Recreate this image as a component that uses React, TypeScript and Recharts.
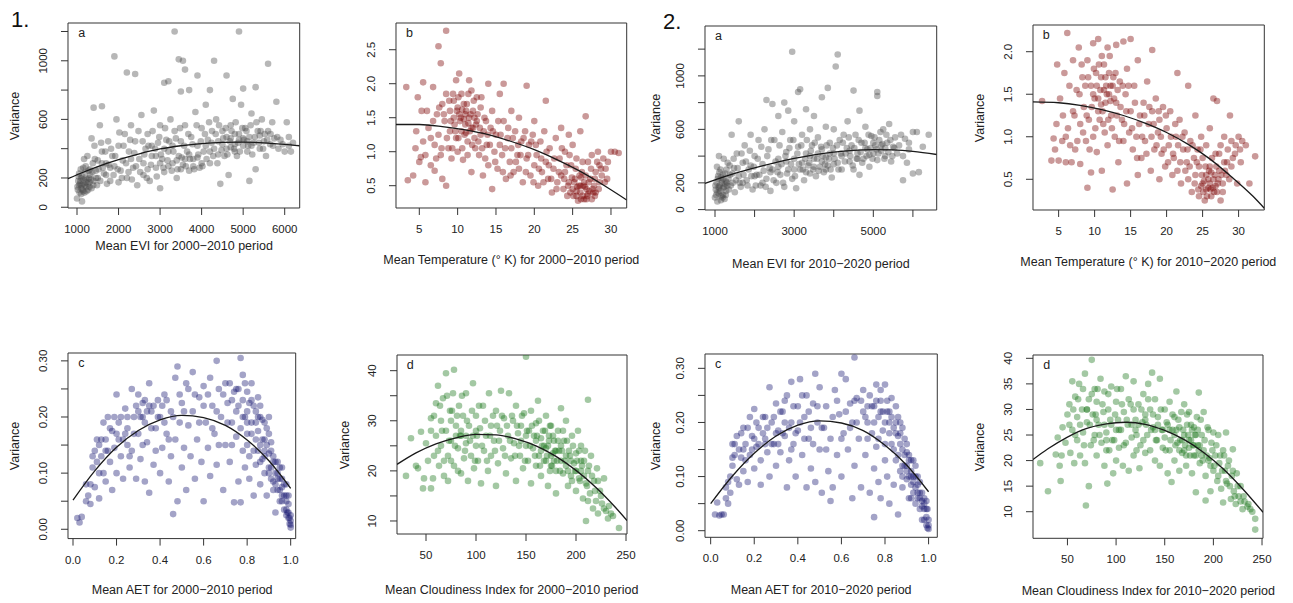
import React from 'react';
import { ScatterChart, Scatter, XAxis, YAxis, ReferenceArea } from 'recharts';

type Pt = [number, number];

// ---- 1a: variance vs mean EVI, 2000-2010 ----
const evi2000: Pt[] = [
  [1000,60],[1020,120],[1050,150],[1080,180],[1100,130],[1120,210],[1150,160],[1180,100],[1200,240],[1220,140],
  [1250,190],[1270,120],[1300,170],[1050,230],[1100,90],[1150,270],[1200,200],[1280,250],[1320,220],[1350,130],
  [1030,180],[1170,330],[1250,350],[1380,300],[1120,40],[1400,180],[1450,250],[1480,150],[1500,320],[1420,420],
  [1350,470],[1400,680],[1600,690],[1550,560],[1600,380],[1650,230],[1700,300],[1750,450],[1800,180],[1850,350],
  [1900,280],[1950,600],[1900,1030],[2000,420],[2050,250],[2100,320],[2150,500],[2200,920],[2200,200],[2250,380],
  [2300,560],[2350,270],[2400,910],[2400,450],[2450,150],[2500,330],[2550,630],[2600,220],[2650,400],[2700,500],
  [2750,180],[2800,350],[2850,660],[2900,270],[2950,440],[3000,130],[3000,560],[3050,330],[3100,850],[3100,240],
  [3150,460],[3200,860],[3200,380],[3250,600],[3300,300],[3350,1200],[3350,520],[3400,200],[3450,1010],[3450,350],
  [3500,450],[3500,790],[3550,1000],[3550,290],[3600,940],[3600,560],[3650,380],[3700,800],[3700,250],[3750,480],
  [3800,330],[3850,650],[3900,900],[3900,420],[3950,270],[4000,540],[4050,380],[4100,700],[4150,460],[4200,800],
  [4200,300],[4250,520],[4300,1000],[4300,400],[4350,600],[4400,450],[4450,160],[4500,520],[4550,350],[4600,900],
  [4600,480],[4650,220],[4700,560],[4700,410],[4750,740],[4800,500],[4850,350],[4900,1200],[4900,460],[4950,700],
  [5000,810],[5000,420],[5050,540],[5100,380],[5150,180],[5150,480],[5200,640],[5250,440],[5300,820],[5300,260],
  [5350,520],[5400,400],[5450,600],[5500,450],[5550,350],[5600,980],[5600,520],[5650,430],[5700,580],[5750,470],
  [5800,720],[5850,400],[5900,460],[6000,380],[6050,580],[6100,480],[6150,380],[6200,440],
  [2600,300],[2700,260],[2800,420],[2900,350],[3000,300],[3100,400],[3200,280],[3300,420],[3400,320],[3500,260],
  [3600,330],[3700,360],[3800,280],[3900,340],[4000,300],[4100,420],[4200,380],[4400,360],[4500,430],[4600,400],
  [4700,470],[4800,430],[4900,500],[5000,470],[5100,450],[5200,420],[5400,490],[4800,380],[1100,200],[1150,110],
  [1220,170],[1300,140],[1060,100],[1500,200],[1700,220],[2000,170],[2300,330],[1800,270],[1600,300],
  [1010,140],[1040,210],[1070,160],[1090,260],[1110,150],[1130,120],[1160,190],[1190,150],[1210,280],[1230,110],
  [1260,160],[1290,200],[1310,260],[1340,190],[1370,240],[1390,150],[1430,330],[1460,200],[1520,260],[1560,180],
  [1580,440],[1620,270],[1680,380],[1720,160],[1760,290],[1820,400],[1880,220],[1920,350],[1980,260],[2020,510],
  [2080,200],[2120,420],[2180,300],[2240,240],[2280,460],[2320,190],[2380,370],[2420,280],[2480,520],[2520,240],
  [2580,450],[2620,360],[2680,200],[2720,420],[2780,290],[2820,520],[2880,400],[2920,210],[2980,480],[3020,360],
  [3080,270],[3120,540],[3180,320],[3220,450],[3280,250],[3320,380],[3380,470],[3420,260],[3480,540],[3520,340],
  [3580,420],[3620,280],[3680,500],[3720,330],[3780,430],[3820,260],[3880,560],[3920,360],[3980,450],[4020,280],
  [4080,500],[4120,330],[4180,580],[4240,440],[4280,350],[4340,500],[4380,300],[4420,560],[4480,390],[4520,470],
  [4580,540],[4620,360],[4680,450],[4720,520],[4780,400],[4820,580],[4880,440],[4920,380],[4980,540],[5020,460],
  [5080,520],[5120,420],[5180,560],[5220,360],[5280,480],[5320,580],[5380,440],[5420,520],[5480,400],[5520,500],
  [5580,460],[5660,500],[5720,420],[5820,480],[5950,430],[6100,420],
];
const evi2000Fit: Pt[] = [
  [783,195],[1000,222],[1500,278],[2000,325],[2500,365],[3000,398],[3500,420],[4000,435],[4500,443],[5000,445],
  [5500,440],[6000,430],[6361,420],
];

// ---- 1b: variance vs mean temperature, 2000-2010 ----
const temp2000: Pt[] = [
  [3.3,1.95],[3.5,0.58],[4.2,0.65],[4.5,1.05],[4.8,1.8],[5.0,0.85],[5.2,0.92],[5.5,2.02],[5.5,1.15],[5.8,0.55],
  [6.0,1.6],[6.2,1.35],[6.5,0.8],[6.8,1.95],[7.0,1.1],[7.0,0.72],[7.3,1.55],[7.5,2.55],[7.5,1.25],[7.8,2.3],
  [7.8,0.95],[8.0,1.7],[8.0,0.6],[8.3,1.45],[8.5,2.78],[8.5,1.85],[8.5,0.5],[8.8,1.05],[9.0,1.6],[9.0,1.3],
  [9.2,0.9],[9.5,1.75],[9.5,1.5],[9.8,2.05],[9.8,1.2],[10.0,1.65],[10.0,1.0],[10.2,2.15],[10.3,1.45],[10.5,1.85],
  [10.5,1.3],[10.7,0.88],[11.0,1.55],[11.0,1.4],[11.2,1.7],[11.3,1.15],[11.5,2.05],[11.5,1.5],[11.8,1.9],[11.8,0.7],
  [12.0,1.35],[12.0,1.6],[12.3,1.05],[12.5,1.8],[12.5,1.45],[12.8,0.95],[13.0,1.65],[13.0,1.25],[13.3,0.65],[13.5,1.5],
  [13.8,1.1],[14.0,2.0],[14.0,0.8],[14.3,1.35],[14.5,0.45],[14.5,1.6],[14.8,1.0],[15.0,1.25],[15.2,0.75],[15.5,1.85],
  [15.5,1.1],[15.8,0.95],[16.0,2.0],[16.0,1.45],[16.3,0.6],[16.5,1.2],[16.8,0.85],[17.0,1.6],[17.0,1.05],[17.3,0.7],
  [17.5,1.3],[17.8,0.95],[18.0,1.5],[18.0,0.75],[18.3,1.15],[18.5,0.55],[18.8,1.3],[19.0,1.97],[19.0,0.9],[19.3,1.1],
  [19.5,0.65],[19.8,1.25],[20.0,0.8],[20.0,1.45],[20.3,0.95],[20.5,0.5],[20.8,1.15],[21.0,0.7],[21.3,1.3],[21.5,1.75],
  [21.5,0.85],[21.8,0.6],[22.0,1.05],[22.3,0.4],[22.5,0.75],[22.8,1.2],[23.0,0.55],[23.3,0.9],[23.5,1.35],[23.5,0.65],
  [23.8,0.45],[24.0,1.0],[24.0,0.7],[24.3,0.35],[24.5,1.25],[24.5,0.55],[24.8,0.8],[25.0,0.45],[25.0,1.1],[25.3,0.6],
  [25.5,0.35],[25.5,0.9],[25.8,0.5],[26.0,1.3],[26.0,0.4],[26.2,0.7],[26.5,0.3],[26.5,0.55],[26.7,1.52],[26.8,0.45],
  [27.0,0.85],[27.0,0.38],[27.3,0.6],[27.5,0.3],[27.5,0.95],[27.8,0.5],[28.0,0.7],[28.0,0.4],[28.3,1.0],[28.5,0.55],
  [28.5,0.8],[28.8,0.65],[29.0,0.9],[29.3,0.75],[29.5,0.6],[30.0,1.0],[30.5,1.0],[31.0,0.98],
  [25.5,0.42],[26.0,0.5],[26.3,0.35],[26.6,0.48],[27.2,0.42],[26.8,0.3],[25.7,0.28],[27.6,0.45],[26.1,0.62],[25.2,0.55],
  [24.7,0.4],[27.9,0.35],[10.8,1.48],[11.4,1.42],[10.2,1.55],[11.8,1.35],[12.2,1.5],[9.6,1.4],[10.6,1.62],[11.1,1.28],
  [8.2,1.55],[8.6,1.2],[8.9,1.75],[9.1,1.45],[9.3,1.05],[9.4,1.85],[9.7,1.3],[9.9,1.6],[10.1,1.2],[10.1,1.8],
  [10.4,1.5],[10.6,1.05],[10.8,1.7],[10.9,1.25],[11.1,1.6],[11.3,0.95],[11.4,1.85],[11.6,1.3],[11.7,1.55],[11.9,1.1],
  [12.1,1.75],[12.2,1.2],[12.4,1.4],[12.6,1.55],[12.7,1.15],[12.9,1.35],[13.1,1.8],[13.2,1.05],[13.4,1.3],[13.6,0.9],
  [13.7,1.45],[13.9,1.25],[14.2,1.1],[14.6,1.3],[14.9,0.85],[15.3,1.45],[15.6,1.25],[15.9,0.7],[16.2,1.05],[16.6,1.35],
  [16.9,0.65],[17.2,1.2],[17.6,0.85],[17.9,1.1],[18.2,0.95],[18.6,1.2],[18.9,0.7],[19.2,0.95],[19.6,1.15],[19.9,0.55],
  [20.2,1.1],[20.6,0.75],[20.9,0.9],[21.2,0.55],[21.6,1.0],[21.9,0.8],[22.2,0.6],[22.6,0.9],[22.9,0.45],[23.2,0.7],
  [23.6,1.05],[23.9,0.6],[24.2,0.8],[24.4,0.5],[24.6,0.95],[24.9,0.62],[25.1,0.35],[25.4,0.75],[25.6,0.48],[25.9,0.65],
  [26.1,0.3],[26.3,0.85],[26.4,0.5],[26.7,0.65],[26.9,0.35],[27.1,0.55],[27.4,0.75],[27.7,0.4],[27.9,0.6],[28.2,0.85],
  [28.4,0.45],[28.7,0.75],[29.2,0.55],[29.6,0.85],[6.5,1.2],[7.2,0.9],[5.8,0.95],[6.8,1.45],[7.6,1.65],[4.6,1.3],
  [5.3,1.6],[7.9,1.05],
];
const temp2000Fit: Pt[] = [
  [1.96,1.40],[5,1.40],[8,1.37],[11,1.32],[14,1.25],[17,1.15],[20,1.03],[23,0.88],[26,0.71],[29,0.51],[32.05,0.29],
];

// ---- 2a: variance vs mean EVI, 2010-2020 ----
const evi2010: Pt[] = [
  [1000,90],[1020,150],[1040,200],[1060,60],[1080,250],[1100,120],[1120,180],[1140,300],[1160,100],[1180,220],
  [1200,160],[1220,380],[1240,80],[1260,270],[1280,140],[1300,200],[1050,320],[1100,400],[1150,240],[1200,110],
  [1250,190],[1320,350],[1350,150],[1380,260],[1420,560],[1450,200],[1480,310],[1500,130],[1550,420],[1600,660],
  [1600,250],[1650,170],[1700,350],[1750,480],[1800,220],[1850,300],[1900,560],[1950,150],[2000,400],[2050,260],
  [2100,520],[2150,180],[2200,340],[2250,600],[2300,820],[2300,230],[2350,450],[2400,140],[2450,790],[2450,300],
  [2500,520],[2550,200],[2600,700],[2600,380],[2650,260],[2700,580],[2750,800],[2750,170],[2800,430],[2850,740],
  [2850,300],[2900,520],[2950,1180],[2950,230],[3000,660],[3000,380],[3050,160],[3100,880],[3100,470],[3150,900],
  [3150,300],[3200,560],[3250,220],[3300,750],[3300,420],[3350,330],[3400,600],[3400,270],[3450,480],[3500,700],
  [3500,380],[3550,250],[3600,540],[3650,320],[3700,840],[3700,450],[3750,280],[3800,620],[3800,390],[3850,910],
  [3850,330],[3900,500],[3950,240],[4000,600],[4000,420],[4050,1070],[4100,1160],[4100,350],[4150,520],[4200,300],
  [4250,560],[4300,420],[4350,660],[4400,360],[4450,480],[4500,890],[4500,300],[4550,560],[4600,420],[4650,740],
  [4650,260],[4700,500],[4750,380],[4800,620],[4850,450],[4900,320],[4950,550],[5000,420],[5050,480],[5100,880],
  [5100,850],[5100,370],[5150,520],[5200,440],[5250,600],[5300,400],[5350,500],[5400,640],[5450,360],[5500,470],
  [5550,540],[5600,420],[5700,560],[5750,220],[5800,530],[5850,350],[5900,450],[6000,580],[6000,270],[6100,580],
  [6150,280],[6250,470],[6400,560],
  [2600,320],[2800,360],[3000,300],[3200,350],[3300,280],[3400,400],[3500,320],[3600,420],[3700,360],[3800,300],
  [3900,420],[4000,340],[4200,400],[4400,440],[4600,380],[4800,460],[5000,500],[5200,480],[4900,410],[5300,460],
  [1100,160],[1150,70],[1200,260],[1280,210],[1060,130],[1700,200],[2000,250],[2200,200],[2400,280],[1900,330],
  [1010,180],[1030,110],[1070,230],[1090,170],[1110,280],[1130,140],[1170,200],[1190,90],[1210,230],[1230,170],
  [1270,110],[1290,300],[1310,180],[1340,230],[1370,330],[1400,180],[1440,270],[1470,380],[1530,220],[1570,310],
  [1620,200],[1670,420],[1720,260],[1780,360],[1820,180],[1880,440],[1920,250],[1980,320],[2030,180],[2080,380],
  [2120,260],[2170,470],[2230,290],[2280,170],[2320,400],[2380,310],[2420,520],[2480,220],[2530,360],[2580,280],
  [2630,480],[2680,340],[2720,200],[2780,400],[2820,270],[2880,460],[2920,340],[2980,520],[3020,250],[3080,420],
  [3120,340],[3180,480],[3220,300],[3280,380],[3320,520],[3380,350],[3420,440],[3480,300],[3520,500],[3580,380],
  [3620,290],[3680,470],[3720,400],[3780,340],[3820,480],[3880,380],[3920,300],[3980,460],[4020,380],[4080,480],
  [4120,300],[4180,420],[4230,500],[4280,360],[4330,460],[4380,540],[4420,400],[4480,330],[4520,460],[4580,380],
  [4630,520],[4680,430],[4720,350],[4780,500],[4830,400],[4880,560],[4930,460],[4980,380],[5030,540],[5080,450],
  [5130,420],[5180,580],[5230,490],[5280,380],[5330,560],[5380,430],[5430,520],[5480,400],[5530,460],[5650,480],
  [5750,400],[5900,500],
];
const evi2010Fit: Pt[] = [
  [747,196],[1000,222],[1500,270],[2000,312],[2500,350],[3000,383],[3500,410],[4000,430],[4500,443],[5000,448],
  [5500,446],[6000,436],[6601,412],
];

// ---- 2b: variance vs mean temperature, 2010-2020 ----
const temp2010: Pt[] = [
  [2.7,1.42],[4.0,0.72],[4.3,0.98],[4.5,0.85],[4.8,1.85],[5.0,0.72],[5.2,1.45],[5.5,0.95],[5.8,1.75],[6.0,0.7],
  [6.2,2.22],[6.3,1.1],[6.5,1.6],[6.8,0.7],[7.0,1.3],[7.0,1.9],[7.3,0.85],[7.5,1.55],[7.8,2.05],[8.0,1.15],
  [8.0,0.68],[8.3,1.7],[8.5,1.35],[8.8,0.95],[9.0,1.9],[9.0,0.4],[9.2,1.2],[9.5,1.6],[9.5,0.58],[9.8,2.1],
  [9.8,1.0],[10.0,1.45],[10.2,1.75],[10.3,0.82],[10.5,2.15],[10.5,1.3],[10.8,1.55],[11.0,1.95],[11.0,0.6],[11.2,1.15],
  [11.5,1.7],[11.5,1.4],[11.8,2.05],[11.8,0.9],[12.0,1.5],[12.0,1.75],[12.3,1.25],[12.5,1.6],[12.5,0.38],[12.8,1.0],
  [13.0,2.08],[13.0,1.4],[13.3,0.7],[13.5,1.65],[13.8,1.2],[14.0,2.12],[14.0,0.95],[14.3,1.5],[14.5,0.45],[14.5,1.8],
  [14.8,1.05],[15.0,2.15],[15.0,1.3],[15.3,0.85],[15.5,1.6],[15.8,1.0],[16.0,1.9],[16.0,0.55],[16.3,1.25],[16.5,0.75],
  [16.8,1.4],[17.0,0.95],[17.3,1.65],[17.5,1.15],[17.8,0.6],[18.0,2.02],[18.0,1.3],[18.3,0.85],[18.5,1.45],[18.8,1.05],
  [19.0,0.5],[19.0,1.2],[19.3,0.8],[19.5,1.35],[19.8,0.65],[20.0,1.1],[20.3,0.9],[20.5,1.3],[20.8,0.55],[21.0,0.75],
  [21.3,1.0],[21.5,1.75],[21.5,0.6],[21.8,1.2],[22.0,0.45],[22.3,0.85],[22.5,1.05],[22.8,0.7],[23.0,1.6],[23.0,0.5],
  [23.3,0.95],[23.5,0.35],[23.8,0.75],[24.0,1.25],[24.0,0.55],[24.3,0.85],[24.5,0.3],[24.5,0.65],[24.8,1.0],[25.0,0.45],
  [25.0,0.75],[25.3,0.25],[25.5,0.55],[25.5,0.9],[25.8,0.4],[26.0,0.65],[26.0,1.1],[26.2,0.3],[26.5,1.45],[26.5,0.5],
  [26.8,0.8],[27.0,0.35],[27.0,1.42],[27.3,0.6],[27.5,0.25],[27.5,0.9],[27.8,0.45],[28.0,0.7],[28.0,1.0],[28.3,0.55],
  [28.5,0.85],[28.8,1.25],[29.0,0.65],[29.0,0.95],[29.5,0.8],[29.8,0.45],[30.0,1.0],[30.3,0.7],[30.5,0.95],[31.0,0.9],
  [32.3,0.77],[31.5,0.45],
  [25.5,0.38],[26.0,0.45],[26.4,0.4],[25.8,0.5],[26.8,0.42],[25.2,0.48],[27.2,0.5],[24.8,0.42],[26.2,0.58],[10.5,1.45],
  [11.3,1.55],[12.2,1.42],[11.6,1.6],[10.9,1.38],[12.6,1.7],[9.8,1.5],
  [7.2,1.25],[7.6,0.95],[7.9,1.5],[8.2,1.85],[8.4,1.05],[8.7,1.6],[8.9,1.25],[9.1,1.7],[9.3,0.85],[9.6,1.35],
  [9.9,1.8],[10.1,1.1],[10.3,1.6],[10.6,1.85],[10.7,1.2],[10.9,1.7],[11.1,1.3],[11.3,1.85],[11.4,1.05],[11.7,1.5],
  [11.9,1.2],[12.1,1.95],[12.2,1.6],[12.4,1.1],[12.7,1.45],[12.9,1.75],[13.1,1.25],[13.2,1.55],[13.4,0.95],[13.6,1.35],
  [13.9,1.6],[14.1,1.15],[14.4,1.3],[14.7,1.6],[15.2,1.1],[15.6,1.4],[15.9,0.75],[16.2,1.15],[16.6,1.0],[16.9,1.25],
  [17.2,0.8],[17.6,1.35],[17.9,1.0],[18.2,1.15],[18.6,0.9],[18.9,1.3],[19.2,1.0],[19.6,0.85],[19.9,1.25],[20.2,0.7],
  [20.6,1.0],[20.9,0.8],[21.2,1.15],[21.6,0.9],[21.9,0.7],[22.2,1.0],[22.6,0.6],[22.9,0.85],[23.2,0.65],[23.6,0.9],
  [23.9,0.45],[24.2,0.7],[24.4,0.38],[24.7,0.85],[24.9,0.55],[25.1,0.35],[25.4,0.65],[25.6,0.3],[25.9,0.6],[26.1,0.38],
  [26.3,0.75],[26.6,0.35],[26.7,0.55],[26.9,0.65],[27.1,0.45],[27.3,0.8],[27.6,0.55],[27.8,0.35],[28.1,0.6],[28.4,0.7],
  [28.7,0.5],[29.2,0.75],[29.6,0.9],[30.2,0.85],[6.0,1.0],[5.6,1.25],[6.6,0.9],[4.7,1.15],
];
const temp2010Fit: Pt[] = [
  [1.44,1.41],[5,1.40],[8,1.37],[11,1.32],[14,1.25],[17,1.16],[20,1.05],[23,0.91],[26,0.74],[29,0.53],[32,0.30],[33.57,0.16],
];

// ---- 1c: variance vs mean AET, 2000-2010 ----
const aet2000: Pt[] = [
  [0.02,0.02],[0.03,0.012],[0.04,0.022],[0.06,0.05],[0.06,0.08],[0.07,0.06],[0.08,0.045],[0.09,0.11],[0.1,0.075],[0.1,0.14],
  [0.11,0.16],[0.12,0.1],[0.12,0.055],[0.13,0.13],[0.14,0.19],[0.15,0.085],[0.15,0.16],[0.16,0.2],[0.17,0.12],[0.18,0.07],
  [0.18,0.175],[0.19,0.145],[0.2,0.24],[0.2,0.1],[0.21,0.19],[0.22,0.13],[0.23,0.16],[0.23,0.09],[0.24,0.215],[0.25,0.18],
  [0.26,0.11],[0.27,0.25],[0.27,0.14],[0.28,0.2],[0.29,0.09],[0.3,0.17],[0.3,0.24],[0.31,0.125],[0.32,0.225],[0.33,0.19],
  [0.33,0.085],[0.34,0.155],[0.35,0.26],[0.35,0.065],[0.36,0.21],[0.37,0.115],[0.38,0.18],[0.39,0.23],[0.4,0.1],[0.4,0.2],
  [0.41,0.145],[0.42,0.24],[0.43,0.17],[0.44,0.085],[0.45,0.21],[0.45,0.13],[0.46,0.027],[0.47,0.27],[0.47,0.16],[0.48,0.29],
  [0.48,0.05],[0.49,0.19],[0.5,0.11],[0.5,0.225],[0.51,0.145],[0.52,0.26],[0.52,0.07],[0.53,0.185],[0.54,0.13],[0.55,0.28],
  [0.55,0.21],[0.56,0.09],[0.57,0.16],[0.58,0.235],[0.59,0.12],[0.6,0.255],[0.6,0.05],[0.61,0.19],[0.62,0.145],[0.63,0.27],
  [0.63,0.095],[0.64,0.22],[0.65,0.17],[0.66,0.3],[0.66,0.115],[0.67,0.25],[0.68,0.2],[0.69,0.07],[0.7,0.15],[0.7,0.26],
  [0.71,0.225],[0.72,0.12],[0.73,0.19],[0.74,0.245],[0.74,0.048],[0.75,0.165],[0.76,0.085],[0.76,0.22],[0.77,0.305],[0.77,0.048],
  [0.78,0.275],[0.78,0.14],[0.79,0.2],[0.79,0.11],[0.8,0.245],[0.8,0.17],[0.81,0.225],[0.81,0.09],[0.82,0.19],[0.82,0.26],
  [0.83,0.14],[0.83,0.06],[0.84,0.21],[0.84,0.115],[0.85,0.175],[0.85,0.235],[0.86,0.15],[0.86,0.08],[0.87,0.195],[0.87,0.125],
  [0.88,0.16],[0.88,0.1],[0.89,0.18],[0.89,0.06],[0.9,0.135],[0.9,0.2],[0.91,0.11],[0.91,0.155],[0.92,0.085],[0.92,0.13],
  [0.93,0.1],[0.93,0.03],[0.94,0.07],[0.94,0.12],[0.95,0.09],[0.95,0.05],[0.96,0.075],[0.96,0.11],[0.97,0.06],[0.97,0.035],
  [0.98,0.05],[0.98,0.08],[0.985,0.03],[0.99,0.02],[0.99,0.045],[0.995,0.01],[1.0,0.003],[1.0,0.015],[0.98,0.025],
  [0.78,0.2],[0.8,0.21],[0.82,0.23],[0.84,0.19],[0.86,0.2],[0.8,0.15],[0.88,0.14],[0.9,0.1],[0.92,0.07],[0.94,0.09],
  [0.96,0.06],[0.75,0.25],[0.73,0.23],[0.3,0.21],[0.32,0.2],[0.35,0.22],[0.15,0.14],[0.2,0.17],[0.12,0.15],[0.25,0.15],
  [0.08,0.08],[0.09,0.13],[0.11,0.12],[0.13,0.16],[0.14,0.1],[0.16,0.14],[0.17,0.18],[0.19,0.2],[0.21,0.16],[0.22,0.2],
  [0.24,0.17],[0.25,0.2],[0.26,0.13],[0.28,0.17],[0.29,0.22],[0.31,0.2],[0.32,0.15],[0.33,0.23],[0.34,0.21],[0.36,0.18],
  [0.37,0.22],[0.38,0.14],[0.39,0.2],[0.41,0.22],[0.42,0.19],[0.43,0.23],[0.44,0.16],[0.46,0.2],[0.49,0.24],[0.51,0.21],
  [0.53,0.25],[0.56,0.24],[0.58,0.19],[0.6,0.22],[0.62,0.24],[0.64,0.18],[0.66,0.21],[0.67,0.15],[0.69,0.24],[0.71,0.19],
  [0.72,0.26],[0.73,0.15],[0.75,0.21],[0.76,0.25],[0.77,0.18],[0.78,0.23],[0.79,0.26],[0.8,0.19],[0.81,0.13],[0.82,0.17],
  [0.83,0.22],[0.84,0.16],[0.85,0.2],[0.86,0.22],[0.86,0.12],[0.87,0.16],[0.88,0.19],[0.88,0.13],[0.89,0.15],[0.9,0.17],
  [0.9,0.11],[0.91,0.14],[0.91,0.09],[0.92,0.12],[0.93,0.08],[0.93,0.12],[0.94,0.1],[0.95,0.07],[0.95,0.11],[0.96,0.09],
  [0.96,0.05],[0.97,0.08],[0.98,0.06],[0.98,0.035],[0.99,0.06],[0.99,0.03],[1.0,0.008],[1.0,0.025],[0.995,0.02],[0.85,0.14],
];
const aet2000Fit: Pt[] = [
  [0,0.052],[0.1,0.104],[0.2,0.146],[0.3,0.176],[0.4,0.195],[0.5,0.203],[0.6,0.199],[0.7,0.185],[0.8,0.159],[0.9,0.122],[1.0,0.073],
];

// ---- 1d: variance vs mean cloudiness, 2000-2010 ----
const cloud2000: Pt[] = [
  [30,19],[35,26.5],[40,21],[42,20.5],[45,27.8],[47,16.5],[48,18.5],[50,25.5],[52,22],[55,16.5],
  [55,30.5],[57,18.5],[58,23],[60,33.5],[60,27],[62,37],[63,21],[65,30],[65,25],[67,34.5],
  [68,19],[70,28],[70,39.5],[72,23],[72,18],[74,32],[75,26],[77,35.5],[78,40.2],[78,21],
  [80,29],[82,24.5],[83,33],[85,19.5],[85,27],[87,31],[88,22.5],[90,35.5],[90,25.5],[92,18],
  [93,29],[95,23],[97,37.5],[97,27],[98,20.5],[100,31],[100,25],[102,22],[104,28.5],[105,17.5],
  [107,33],[108,24],[110,27],[112,20],[113,35.5],[115,29],[115,23],[118,26],[120,32],[120,17],
  [122,21.5],[124,28],[125,36],[127,24.5],[128,30.5],[130,19.5],[132,27],[133,35.5],[135,22.5],[137,30],
  [138,25.5],[140,18],[140,33],[142,27.5],[144,23],[145,29],[147,20.5],[148,31.5],[150,42.8],[150,25],
  [152,22],[153,28],[155,17.5],[155,32],[157,24.5],[158,27],[160,21],[160,29.5],[162,34],[163,23],
  [165,26.5],[165,19],[167,28],[168,22],[170,31],[170,24.5],[172,17],[173,27],[175,21],[175,29],
  [177,23.5],[178,26],[180,15.5],[180,20],[182,28],[183,24],[185,22],[185,32.5],[187,19.5],[188,26],
  [190,21],[190,30],[192,17],[193,24],[195,19],[196,27],[198,21.5],[200,16],[200,23.5],[202,28],
  [203,18.5],[205,25],[205,20],[207,14.5],[208,22],[210,17.5],[210,10],[212,34.2],[212,20],[214,15.5],
  [215,23],[217,12.5],[218,18],[220,14],[221,20.5],[222,11.5],[224,16],[226,13.5],[228,18.5],[230,12],
  [232,10.5],[235,11.5],[237,11],[243,8.6],
  [160,26],[165,24],[170,22],[172,25],[175,23],[178,22],[180,24],[168,25],[174,20],[185,25],
  [190,23],[195,22],[150,27],[145,26],[100,28],[90,27],[80,27],[75,30],[85,28],[200,20],[205,22],
  [55,28],[58,31],[62,24],[64,33],[66,28],[68,22],[71,35],[73,26],[75,22],[76,32],
  [79,25],[81,31],[82,20],[84,27],[86,35],[89,24],[91,30],[94,26],[96,32],[99,22],
  [101,27],[103,33],[106,25],[109,30],[111,22],[114,27],[117,31],[119,24],[121,29],[123,26],
  [126,31],[129,23],[131,29],[134,26],[136,31],[139,23],[141,29],[143,25],[146,31],[149,22],
  [151,28],[154,25],[156,29],[159,23],[161,27],[163,30],[164,21],[166,25],[169,28],[171,23],
  [173,26],[174,29],[176,21],[177,27],[179,24],[181,22],[182,26],[184,20],[186,24],[187,28],
  [189,22],[191,26],[192,20],[194,23],[196,18],[197,25],[199,20],[201,22],[203,24],[204,18],
  [206,21],[208,19],[209,24],[211,17],[213,21],[216,19],[219,16],[222,18],[225,15],[228,12.5],
  [212,14],[233,13],
];
const cloud2000Fit: Pt[] = [
  [21,21.3],[40,23.6],[60,25.4],[80,26.6],[100,27.3],[120,27.2],[140,26.4],[160,25.0],[180,22.9],[200,20.1],
  [220,16.7],[240,12.6],[251,10.1],
];

// ---- 2c: variance vs mean AET, 2010-2020 ----
const aet2010: Pt[] = [
  [0.02,0.03],[0.03,0.052],[0.04,0.028],[0.05,0.03],[0.06,0.03],[0.07,0.06],[0.08,0.09],[0.08,0.05],[0.09,0.07],[0.1,0.12],
  [0.1,0.16],[0.11,0.14],[0.12,0.095],[0.12,0.175],[0.13,0.085],[0.14,0.135],[0.15,0.19],[0.15,0.11],[0.16,0.16],[0.17,0.09],
  [0.18,0.21],[0.18,0.14],[0.19,0.175],[0.2,0.115],[0.2,0.225],[0.21,0.155],[0.22,0.19],[0.23,0.13],[0.23,0.085],[0.24,0.21],
  [0.25,0.17],[0.26,0.145],[0.27,0.265],[0.27,0.1],[0.28,0.2],[0.29,0.16],[0.3,0.235],[0.3,0.12],[0.31,0.185],[0.32,0.145],
  [0.33,0.22],[0.34,0.175],[0.35,0.08],[0.35,0.25],[0.36,0.13],[0.37,0.2],[0.37,0.275],[0.38,0.16],[0.39,0.1],[0.4,0.23],
  [0.4,0.185],[0.41,0.28],[0.42,0.14],[0.43,0.21],[0.44,0.08],[0.44,0.25],[0.45,0.17],[0.46,0.115],[0.47,0.235],[0.48,0.29],
  [0.48,0.09],[0.49,0.2],[0.5,0.15],[0.5,0.265],[0.51,0.07],[0.52,0.19],[0.53,0.23],[0.54,0.11],[0.55,0.055],[0.55,0.17],
  [0.56,0.08],[0.57,0.26],[0.58,0.14],[0.59,0.215],[0.6,0.29],[0.6,0.1],[0.61,0.18],[0.62,0.28],[0.63,0.15],[0.64,0.235],
  [0.65,0.06],[0.65,0.2],[0.66,0.32],[0.66,0.12],[0.67,0.245],[0.68,0.17],[0.69,0.08],[0.7,0.22],[0.7,0.26],[0.71,0.14],
  [0.72,0.2],[0.73,0.07],[0.73,0.25],[0.74,0.18],[0.75,0.025],[0.75,0.115],[0.76,0.27],[0.76,0.155],[0.77,0.21],[0.77,0.09],
  [0.78,0.24],[0.78,0.06],[0.79,0.185],[0.8,0.27],[0.8,0.13],[0.81,0.22],[0.81,0.1],[0.82,0.2],[0.82,0.05],[0.83,0.245],
  [0.83,0.16],[0.84,0.085],[0.84,0.19],[0.85,0.23],[0.85,0.13],[0.86,0.03],[0.86,0.175],[0.87,0.11],[0.87,0.2],[0.88,0.15],
  [0.88,0.08],[0.89,0.17],[0.89,0.12],[0.9,0.145],[0.9,0.095],[0.91,0.13],[0.91,0.06],[0.92,0.11],[0.92,0.085],[0.93,0.13],
  [0.93,0.07],[0.94,0.1],[0.94,0.05],[0.95,0.085],[0.95,0.06],[0.96,0.07],[0.96,0.04],[0.97,0.055],[0.97,0.02],[0.98,0.04],
  [0.98,0.06],[0.99,0.025],[0.99,0.01],[1.0,0.003],[1.0,0.02],[0.995,0.04],
  [0.82,0.22],[0.85,0.2],[0.87,0.18],[0.8,0.2],[0.78,0.22],[0.9,0.12],[0.92,0.1],[0.95,0.07],[0.93,0.09],[0.97,0.045],
  [0.72,0.23],[0.75,0.23],[0.3,0.18],[0.34,0.2],[0.25,0.16],[0.15,0.15],[0.2,0.17],[0.1,0.135],
  [0.07,0.08],[0.09,0.1],[0.11,0.16],[0.13,0.15],[0.14,0.18],[0.16,0.13],[0.17,0.19],[0.19,0.15],[0.21,0.2],[0.22,0.16],
  [0.24,0.18],[0.25,0.21],[0.26,0.19],[0.28,0.16],[0.29,0.21],[0.31,0.16],[0.32,0.22],[0.33,0.18],[0.34,0.24],[0.36,0.19],
  [0.37,0.15],[0.38,0.23],[0.39,0.18],[0.41,0.2],[0.42,0.25],[0.43,0.17],[0.45,0.22],[0.46,0.19],[0.47,0.16],[0.49,0.23],
  [0.51,0.19],[0.53,0.15],[0.56,0.21],[0.58,0.24],[0.6,0.17],[0.62,0.22],[0.64,0.19],[0.66,0.24],[0.67,0.2],[0.69,0.24],
  [0.71,0.21],[0.72,0.17],[0.74,0.23],[0.75,0.2],[0.76,0.24],[0.77,0.17],[0.78,0.26],[0.79,0.22],[0.8,0.16],[0.81,0.24],
  [0.82,0.18],[0.83,0.21],[0.84,0.15],[0.85,0.18],[0.86,0.21],[0.86,0.14],[0.87,0.16],[0.88,0.19],[0.88,0.12],[0.89,0.14],
  [0.9,0.16],[0.9,0.11],[0.91,0.1],[0.91,0.14],[0.92,0.13],[0.93,0.1],[0.94,0.08],[0.94,0.12],[0.95,0.1],[0.96,0.06],
  [0.96,0.09],[0.97,0.07],[0.98,0.05],[0.98,0.02],[0.99,0.04],[0.99,0.055],[1.0,0.01],[0.995,0.005],[0.92,0.06],[0.88,0.1],
];
const aet2010Fit: Pt[] = [
  [0,0.05],[0.1,0.101],[0.2,0.143],[0.3,0.175],[0.4,0.195],[0.5,0.203],[0.6,0.199],[0.7,0.185],[0.8,0.158],[0.9,0.121],[1.0,0.072],
];

// ---- 2d: variance vs mean cloudiness, 2010-2020 ----
const cloud2010: Pt[] = [
  [22,19.5],[30,14],[38,21.2],[40,24.5],[42,19],[43,16],[44,21],[45,26.5],[48,23.5],[50,29],
  [52,31],[53,21.5],[55,35.5],[55,26],[57,19.5],[58,32.5],[60,24],[60,28.5],[62,35],[63,21],
  [65,30],[66,25.5],[68,37],[68,19.5],[69,11.2],[70,27.5],[72,15],[72,32],[74,23],[75,39.7],
  [76,29],[78,25],[78,34],[80,21],[80,31.5],[82,27],[84,36],[85,23.5],[87,29.5],[88,19],
  [88,33.5],[90,25.5],[91,15.5],[92,30],[93,22],[95,34.5],[95,27],[97,17.5],[98,24],[100,31.5],
  [100,20],[102,28],[103,22.5],[105,34],[105,26],[107,19],[108,29.5],[110,36.5],[110,23.5],[112,27],
  [113,18],[115,31],[116,24.5],[118,35.5],[118,21],[120,28],[121,25],[123,31],[124,18.5],[125,23],
  [127,27.5],[128,33],[130,21.5],[130,29],[132,25],[133,35],[135,22],[135,30],[137,37.2],[138,26.5],
  [140,20],[140,32],[142,24],[143,28.5],[145,19],[145,36],[147,26],[148,22.5],[150,30],[150,24.5],
  [152,27.5],[153,17.5],[155,31.5],[155,22],[157,15.8],[158,26],[160,20],[160,28.5],[162,33.5],[163,23.5],
  [165,26.5],[165,18],[167,29.5],[168,21.5],[170,25],[170,31],[172,19],[173,27],[175,22.5],[175,29.5],
  [177,24],[178,17.5],[180,26.5],[180,21],[182,13.8],[183,28.5],[184,23],[185,33.3],[186,19.5],[188,25],
  [190,22],[190,29.5],[192,12.2],[192,17],[194,26.5],[196,20.5],[197,14],[198,23.5],[200,18],[200,25.5],
  [202,21],[204,16],[205,25],[206,19.5],[208,14.5],[210,22],[210,11.8],[212,18],[213,25.5],[214,15.5],
  [216,20],[218,12.5],[219,17],[220,22.2],[221,14],[223,11.5],[224,17.5],[226,13],[228,15],[230,10.5],
  [232,12],[235,11],[238,10.5],[243,8.6],[243,6.5],
  [170,22],[175,24],[180,23],[178,26],[172,21],[185,22],[168,24],[165,22],[160,25],[155,26],
  [182,25],[188,21],[195,20],[120,26],[100,26],[90,24],[80,28],[70,30],[130,28],[140,26],
  [52,27],[56,30],[58,25],[61,32],[63,27],[66,34],[67,23],[70,30],[73,27],[75,33],
  [77,24],[79,29],[81,34],[83,25],[86,31],[88,27],[90,22],[92,33],[94,28],[96,24],
  [99,29],[101,34],[103,26],[106,31],[108,23],[111,28],[113,32],[116,27],[118,30],[121,22],
  [123,27],[126,30],[128,24],[131,27],[133,32],[136,26],[138,29],[141,24],[143,27],[146,30],
  [148,26],[151,22],[153,27],[156,24],[158,29],[161,23],[162,26],[164,28],[166,24],[169,26],
  [171,23],[173,29],[174,25],[176,21],[177,27],[179,23],[181,25],[182,21],[184,26],[186,23],
  [187,28],[189,20],[191,24],[193,21],[195,26],[197,19],[199,22],[201,19],[203,23],[205,17],
  [207,21],[209,18],[211,21],[213,16],[215,19],[217,15],[220,18],[222,13],[225,15],[228,12],
  [231,13],[236,11.5],[240,10],
];
const cloud2010Fit: Pt[] = [
  [14.6,20.2],[30,22.3],[50,24.6],[70,26.3],[90,27.2],[110,27.5],[130,27.1],[150,25.9],[170,24.1],[190,21.6],
  [210,18.4],[230,14.5],[251,9.9],
];

const eviTicks = [1000, 2000, 3000, 4000, 5000, 6000];
const eviVarTicks = [0, 200, 400, 600, 800, 1000, 1200];
const tempTicks = [5, 10, 15, 20, 25, 30];
const aetTicks = [0, 0.2, 0.4, 0.6, 0.8, 1];
const aetVarTicks = [0, 0.05, 0.1, 0.15, 0.2, 0.25, 0.3];
const cloudTicks = [50, 100, 150, 200, 250];
const cloudVarTicks = [10, 15, 20, 25, 30, 35, 40];

const FONT = '"Liberation Sans", Arial, Helvetica, sans-serif';
const INK = '#222';

interface PanelSpec {
  box: [number, number, number, number];
  xDomain: [number, number];
  yDomain: [number, number];
  xTicks: number[];
  xShown: number[];
  xDigits: number;
  yTicks: number[];
  yShown: number[];
  yDigits: number;
  points: Pt[];
  fit: Pt[];
  color: string;
  letter: string;
  title: string;
  titleY: number;
  varX: number | null;
}

const panels: PanelSpec[] = [
  {
    box: [68.3, 23.3, 300, 208.3], xDomain: [783, 6361], yDomain: [-5, 1258],
    xTicks: eviTicks, xShown: eviTicks, xDigits: 0,
    yTicks: eviVarTicks, yShown: [0, 200, 600, 1000], yDigits: 0,
    points: evi2000, fit: evi2000Fit, color: '#4a4a4a', letter: 'a',
    title: 'Mean EVI for 2000\u22122010 period', titleY: 247, varX: 15,
  },
  {
    box: [396, 23.3, 626.7, 208.3], xDomain: [1.96, 32.05], yDomain: [0.172, 2.893],
    xTicks: tempTicks, xShown: tempTicks, xDigits: 0,
    yTicks: [0.5, 1, 1.5, 2, 2.5], yShown: [0.5, 1, 1.5, 2, 2.5], yDigits: 1,
    points: temp2000, fit: temp2000Fit, color: '#7a0000', letter: 'b',
    title: 'Mean Temperature (\u00b0 K) for 2000\u22122010 period', titleY: 261, varX: null,
  },
  {
    box: [705, 26, 936.7, 210], xDomain: [747, 6601], yDomain: [-3, 1373],
    xTicks: eviTicks, xShown: [1000, 3000, 5000], xDigits: 0,
    yTicks: eviVarTicks, yShown: [0, 200, 600, 1000], yDigits: 0,
    points: evi2010, fit: evi2010Fit, color: '#4a4a4a', letter: 'a',
    title: 'Mean EVI for 2010\u22122020 period', titleY: 265, varX: 656,
  },
  {
    box: [1032.7, 25, 1264, 210], xDomain: [1.44, 33.57], yDomain: [0.139, 2.314],
    xTicks: tempTicks, xShown: tempTicks, xDigits: 0,
    yTicks: [0.5, 1, 1.5, 2], yShown: [0.5, 1, 1.5, 2], yDigits: 1,
    points: temp2010, fit: temp2010Fit, color: '#7a0000', letter: 'b',
    title: 'Mean Temperature (\u00b0 K) for 2010\u22122020 period', titleY: 263, varX: 980,
  },
  {
    box: [68.3, 352.7, 296, 538.3], xDomain: [-0.023, 1.023], yDomain: [-0.0166, 0.314],
    xTicks: aetTicks, xShown: aetTicks, xDigits: 1,
    yTicks: aetVarTicks, yShown: [0, 0.1, 0.2, 0.3], yDigits: 2,
    points: aet2000, fit: aet2000Fit, color: '#1a1a72', letter: 'c',
    title: 'Mean AET for 2000\u22122010 period', titleY: 591, varX: 15,
  },
  {
    box: [396.7, 355, 626.7, 534], xDomain: [21, 251], yDomain: [7.4, 43.13],
    xTicks: cloudTicks, xShown: cloudTicks, xDigits: 0,
    yTicks: cloudVarTicks, yShown: [10, 20, 30, 40], yDigits: 0,
    points: cloud2000, fit: cloud2000Fit, color: '#18761a', letter: 'd',
    title: 'Mean Cloudiness Index for 2000\u22122010 period', titleY: 591, varX: 345,
  },
  {
    box: [705, 354, 937.3, 537.3], xDomain: [-0.026, 1.04], yDomain: [-0.0122, 0.3265],
    xTicks: aetTicks, xShown: aetTicks, xDigits: 1,
    yTicks: aetVarTicks, yShown: [0, 0.1, 0.2, 0.3], yDigits: 2,
    points: aet2010, fit: aet2010Fit, color: '#1a1a72', letter: 'c',
    title: 'Mean AET for 2010\u22122020 period', titleY: 591, varX: 656,
  },
  {
    box: [1033.3, 355, 1263.3, 538.3], xDomain: [14.6, 251], yDomain: [4.8, 40.65],
    xTicks: cloudTicks, xShown: cloudTicks, xDigits: 0,
    yTicks: cloudVarTicks, yShown: cloudVarTicks, yDigits: 0,
    points: cloud2010, fit: cloud2010Fit, color: '#18761a', letter: 'd',
    title: 'Mean Cloudiness Index for 2010\u22122020 period', titleY: 592, varX: 980,
  },
];

const PAD_L = 60;
const PAD_T = 8;
const PAD_R = 10;
const PAD_B = 40;
const TICK_FS = 11.5;
const LABEL_FS = 12.5;

function Panel({ p }: { p: PanelSpec }) {
  const [l, t, r, b] = p.box;
  const w = r - l;
  const h = b - t;
  const pts = p.points.map(([x, y]) => ({ x, y }));
  const fit = p.fit.map(([x, y]) => ({ x, y }));

  // semi-transparent dots, like R's col = adjustcolor(..., alpha)
  const dot = (props: any) => (
    <circle cx={props.cx} cy={props.cy} r={3.3} fill={p.color} fillOpacity={0.4} />
  );

  const xTick = (props: any) => {
    const v = props.payload.value;
    if (!p.xShown.includes(v)) return <g />;
    return (
      <text x={props.x} y={props.y} dy="0.71em" textAnchor="middle" fontSize={TICK_FS} fill={INK} fontFamily={FONT}>
        {v.toFixed(p.xDigits)}
      </text>
    );
  };

  const yTick = (props: any) => {
    const v = props.payload.value;
    if (!p.yShown.includes(v)) return <g />;
    return (
      <text x={props.x} y={props.y} textAnchor="middle" fontSize={TICK_FS} fill={INK} fontFamily={FONT}
        transform={`rotate(-90 ${props.x} ${props.y})`}>
        {v.toFixed(p.yDigits)}
      </text>
    );
  };

  return (
    <>
      <div style={{ position: 'absolute', left: l - PAD_L, top: t - PAD_T }}>
        <ScatterChart width={w + PAD_L + PAD_R} height={h + PAD_T + PAD_B}
          margin={{ top: PAD_T, right: PAD_R, bottom: 0, left: 0 }}>
          <XAxis type="number" dataKey="x" domain={p.xDomain} allowDataOverflow ticks={p.xTicks} interval={0}
            height={PAD_B} tickSize={7} tickMargin={10} axisLine={false} tickLine={{ stroke: '#333' }} tick={xTick} />
          <YAxis type="number" dataKey="y" domain={p.yDomain} allowDataOverflow ticks={p.yTicks} interval={0}
            width={PAD_L} tickSize={7} tickMargin={14} axisLine={false} tickLine={{ stroke: '#333' }} tick={yTick} />
          <Scatter data={pts} shape={dot} isAnimationActive={false} />
          <Scatter data={fit} shape={() => <g />} line={{ stroke: '#1a1a1a', strokeWidth: 1.3 }}
            lineJointType="monotoneX" isAnimationActive={false} />
          <ReferenceArea x1={p.xDomain[0]} x2={p.xDomain[1]} y1={p.yDomain[0]} y2={p.yDomain[1]}
            fill="none" stroke="#333" strokeWidth={1} ifOverflow="visible" />
        </ScatterChart>
      </div>
      <div style={{ position: 'absolute', left: l + 10, top: t + 4, fontSize: LABEL_FS, lineHeight: 1, color: INK }}>
        {p.letter}
      </div>
      <div style={{
        position: 'absolute', left: l - 60, width: w + 120, top: p.titleY - 7, textAlign: 'center',
        fontSize: LABEL_FS, lineHeight: 1, color: INK, whiteSpace: 'nowrap',
      }}>
        {p.title}
      </div>
      {p.varX !== null && (
        <div style={{
          position: 'absolute', left: p.varX - 50, top: t + h / 2 - 7, width: 100, textAlign: 'center',
          fontSize: LABEL_FS, lineHeight: '14px', color: INK, transform: 'rotate(-90deg)',
        }}>
          Variance
        </div>
      )}
    </>
  );
}

export default function App() {
  return (
    <div style={{
      position: 'absolute', left: 0, top: 0, width: 1293, height: 603, background: '#fff',
      fontFamily: FONT, overflow: 'hidden',
    }}>
      <div style={{ position: 'absolute', left: 11, top: 9, fontSize: 22, lineHeight: 1, color: '#111' }}>1.</div>
      <div style={{ position: 'absolute', left: 663, top: 11, fontSize: 22, lineHeight: 1, color: '#111' }}>2.</div>
      {panels.map((p, i) => (
        <Panel key={i} p={p} />
      ))}
    </div>
  );
}
